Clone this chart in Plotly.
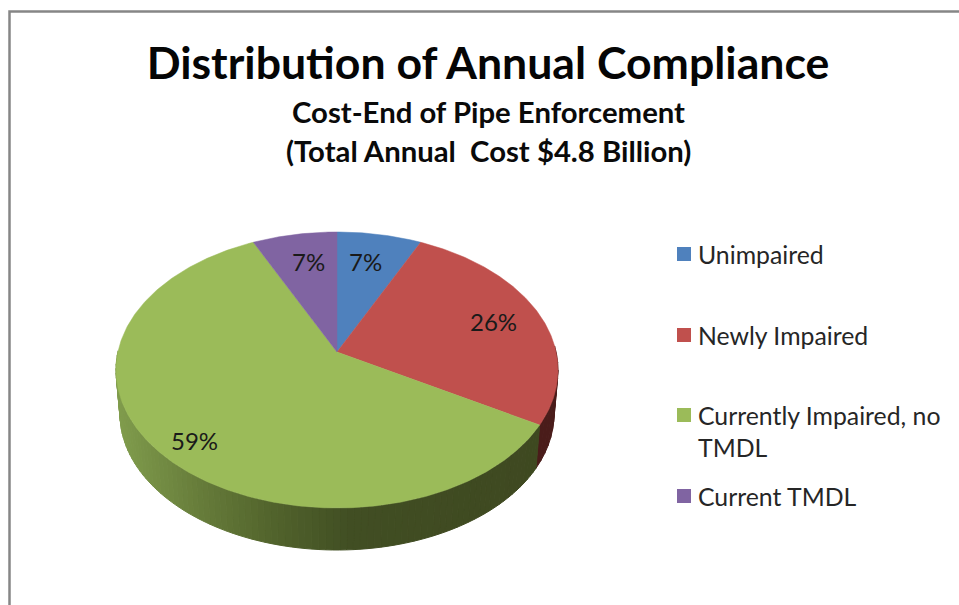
import math
import plotly.graph_objects as go

categories = ["Unimpaired", "Newly Impaired", "Currently Impaired, no TMDL", "Current TMDL"]
legend_lines = [["Unimpaired"], ["Newly Impaired"], ["Currently Impaired, no", "TMDL"], ["Current TMDL"]]
values = [7, 26, 59, 7]

colors = ["#4F81BD", "#C0504D", "#9BBB59", "#8064A2"]
title_text = "Distribution of Annual Compliance"
subtitle_lines = ["Cost-End of Pipe Enforcement", "(Total Annual  Cost $4.8 Billion)"]

W, H = 959, 605
FONT = "Lato"
CX, CY, A, B = 337, 370, 221, 138      # top ellipse
AX, AY = 337, 352                      # wedge apex (perspective)
BCY, BA, BB = 414, 217, 136            # bottom rim ellipse
total = sum(values)


def ray_param(theta):
    """Ellipse parameter t of the rim point reached from the apex at pie angle theta."""
    dx, dy = A * math.sin(theta), -B * math.cos(theta)
    ox, oy = (AX - CX) / A, (AY - CY) / B
    px, py = dx / A, dy / B
    a = px * px + py * py
    b = 2 * (ox * px + oy * py)
    c = ox * ox + oy * oy - 1
    s = (-b + math.sqrt(b * b - 4 * a * c)) / (2 * a)
    ex, ey = ox + s * px, oy + s * py
    return math.atan2(ex, -ey) % (2 * math.pi)


def top_pt(t):
    return CX + A * math.sin(t), CY - B * math.cos(t)


def bot_pt(t):
    return CX + BA * math.sin(t), BCY - BB * math.cos(t)


# cumulative slice boundaries as rim parameters
bounds, cum = [0.0], 0
for v in values:
    cum += v
    bounds.append(2 * math.pi * cum / total)
rim = [ray_param(b) for b in bounds[:-1]] + [2 * math.pi]

fig = go.Figure()

# side wall gradient stops, by horizontal position
green_stops = [(116, (128, 156, 76)), (200, (102, 124, 58)), (270, (82, 100, 44)),
               (350, (65, 78, 35)), (560, (62, 72, 32))]


def grad(x, stops):
    for (x0, c0), (x1, c1) in zip(stops, stops[1:]):
        if x <= x1:
            f = max(0, (x - x0) / (x1 - x0))
            return "rgb(%d,%d,%d)" % tuple(round(a + (b - a) * f) for a, b in zip(c0, c1))
    return "rgb(%d,%d,%d)" % stops[-1][1]


def side_strip(t0, t1, color):
    p = [top_pt(t0), top_pt(t1), bot_pt(t1), bot_pt(t0), top_pt(t0)]
    fig.add_trace(go.Scatter(x=[q[0] for q in p], y=[q[1] for q in p], mode="lines",
                             fill="toself", fillcolor=color, line=dict(color=color, width=1),
                             hoverinfo="skip", showlegend=False))


# red side wall
n = 10
for i in range(n):
    t0 = math.radians(80) + (rim[2] - math.radians(80)) * i / n
    t1 = math.radians(80) + (rim[2] - math.radians(80)) * (i + 1) / n
    side_strip(t0, t1, "#4A1C1A")
# green side wall
n = 90
end = math.radians(278)
for i in range(n):
    t0 = rim[2] + (end - rim[2]) * i / n
    t1 = rim[2] + (end - rim[2]) * (i + 1) / n
    side_strip(t0, t1, grad(top_pt((t0 + t1) / 2)[0], green_stops))

# top face wedges
for i, name in enumerate(categories):
    steps = max(4, int((rim[i + 1] - rim[i]) / 0.01))
    xs, ys = [AX], [AY]
    for k in range(steps + 1):
        x, y = top_pt(rim[i] + (rim[i + 1] - rim[i]) * k / steps)
        xs.append(x)
        ys.append(y)
    xs.append(AX)
    ys.append(AY)
    fig.add_trace(go.Scatter(x=xs, y=ys, mode="lines", fill="toself", fillcolor=colors[i],
                             line=dict(color=colors[i], width=0.5), name=name,
                             hovertemplate=f"{name}: {values[i]}%<extra></extra>", showlegend=False))

# data labels, placed by fraction of the radius along each slice's mid-angle
label_rx = [0.58, 0.74, 0.88, 0.58]
label_ry = [0.67, 0.74, 0.94, 0.67]
annotations = []
for i, v in enumerate(values):
    mid = (bounds[i] + bounds[i + 1]) / 2
    annotations.append(dict(x=AX + label_rx[i] * A * math.sin(mid),
                            y=AY - label_ry[i] * B * math.cos(mid),
                            text=f"{v}%", showarrow=False, xanchor="center", yanchor="middle",
                            font=dict(family=FONT, size=24, color="#1a1a1a")))

# legend
legend_y = [254, 335, 415, 496]
line_h = 32
for i, lines in enumerate(legend_lines):
    fig.add_trace(go.Scatter(x=[684], y=[legend_y[i]], mode="markers",
                             marker=dict(symbol="square", size=14, color=colors[i]),
                             hoverinfo="skip", showlegend=False))
    for j, line in enumerate(lines):
        annotations.append(dict(x=696, y=legend_y[i] + j * line_h, text=line, showarrow=False,
                                xanchor="left", yanchor="middle",
                                font=dict(family=FONT, size=24.8, color="#262626")))

# subtitle lines
for y, line in zip([111, 150], subtitle_lines):
    annotations.append(dict(x=488, y=y, text=line, showarrow=False, xanchor="center",
                            yanchor="middle", font=dict(family=FONT, size=29.3, color="#0a0a0a",
                                                        weight="bold")))

fig.update_layout(
    width=W, height=H, margin=dict(l=0, r=0, t=0, b=0),
    paper_bgcolor="white", plot_bgcolor="white", showlegend=False,
    title=dict(text=title_text, x=488 / W, xanchor="center", y=1 - 63 / H, yanchor="middle",
               font=dict(family=FONT, size=44.6, color="#050505", weight="bold")),
    xaxis=dict(range=[0, W], visible=False, fixedrange=True),
    yaxis=dict(range=[H, 0], visible=False, fixedrange=True),
    annotations=annotations,
    shapes=[dict(type="path", path=f"M 9.5 {H} L 9.5 11.5 L {W} 11.5", xref="x", yref="y",
                 line=dict(color="#868686", width=2.5))],
)

fig.write_html("out.html", config=dict(displayModeBar=False),
               post_script="document.body.style.margin='0';document.documentElement.style.overflow='hidden';")
